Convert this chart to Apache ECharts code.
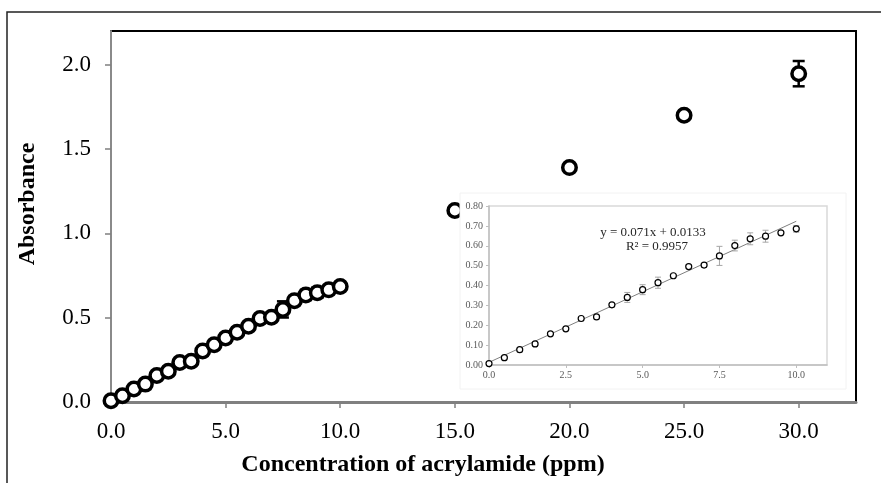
<!DOCTYPE html>
<html>
<head>
<meta charset="utf-8">
<script src="https://cdn.jsdelivr.net/npm/echarts@6/dist/echarts.min.js"></script>
<style>
  html, body { margin: 0; padding: 0; background: #fff; }
  #chart { width: 881px; height: 483px; }
</style>
</head>
<body>
<div id="chart"></div>
<script>
// calibration points 0-10 ppm (also drawn in the inset)
const lowConc = [0, 0.5, 1, 1.5, 2, 2.5, 3, 3.5, 4, 4.5, 5, 5.5, 6, 6.5, 7, 7.5, 8, 8.5, 9, 9.5, 10];
const lowAbs = [0.007, 0.037, 0.077, 0.106, 0.157, 0.182, 0.234, 0.242, 0.303, 0.340, 0.379, 0.414,
  0.449, 0.495, 0.503, 0.549, 0.601, 0.635, 0.648, 0.665, 0.685];
const lowErr = [0.003, 0.005, 0.004, 0.005, 0.004, 0.004, 0.003, 0.005, 0.004, 0.025, 0.025, 0.028,
  0.004, 0.010, 0.004, 0.048, 0.027, 0.030, 0.030, 0.004, 0.017];

// higher concentrations, main chart only
const highConc = [15, 20, 25, 30];
const highAbs = [1.136, 1.39, 1.70, 1.947];
const highErr = [0.02, 0.02, 0.02, 0.075];

// fitted line shown in the inset
const fitSlope = 0.071;
const fitIntercept = 0.0133;
const fitRange = [0, 10];

const mainConc = lowConc.concat(highConc);
const mainAbs = lowAbs.concat(highAbs);
const mainErr = lowErr.concat(highErr);

const serif = 'Liberation Serif, Times New Roman, serif';

function errorBars(capHalf, color, width) {
  return function (params, api) {
    const x = api.value(0);
    const top = api.coord([x, api.value(2)]);
    const bot = api.coord([x, api.value(1)]);
    const style = { stroke: color, lineWidth: width };
    return {
      type: 'group',
      children: [
        { type: 'line', shape: { x1: top[0], y1: top[1], x2: bot[0], y2: bot[1] }, style },
        { type: 'line', shape: { x1: top[0] - capHalf, y1: top[1], x2: top[0] + capHalf, y2: top[1] }, style },
        { type: 'line', shape: { x1: bot[0] - capHalf, y1: bot[1], x2: bot[0] + capHalf, y2: bot[1] }, style }
      ]
    };
  };
}

const chart = echarts.init(document.getElementById('chart'));

const option = {
  animation: false,
  backgroundColor: '#fff',
  grid: [
    {
      left: 111, top: 31, right: 25, bottom: 81,
      show: true, borderColor: '#000', borderWidth: 2, backgroundColor: 'transparent'
    },
    {
      left: 489, top: 206, right: 54, bottom: 118,
      show: true, borderColor: '#d9d9d9', borderWidth: 1.5, backgroundColor: '#fff', z: 15
    }
  ],
  xAxis: [
    {
      type: 'value', gridIndex: 0, min: 0, max: 32.5, interval: 5,
      axisLine: { show: true, lineStyle: { color: '#808080', width: 3 } },
      axisTick: { show: true, inside: false, length: 6, lineStyle: { color: '#808080', width: 1.5 } },
      axisLabel: {
        color: '#000', fontFamily: serif, fontSize: 23, margin: 18,
        formatter: v => v.toFixed(1),
        showMaxLabel: false
      },
      splitLine: { show: false }
    },
    {
      type: 'value', gridIndex: 1, min: 0, max: 11, interval: 2.5, z: 20,
      axisLine: { show: true, lineStyle: { color: '#bfbfbf', width: 1.5 } },
      axisTick: { show: true, length: 3, lineStyle: { color: '#bfbfbf' } },
      axisLabel: {
        color: '#595959', fontFamily: serif, fontSize: 10, margin: 5,
        formatter: v => v.toFixed(1),
        showMaxLabel: false
      },
      splitLine: { show: false }
    }
  ],
  yAxis: [
    {
      type: 'value', gridIndex: 0, min: 0, max: 2.2, interval: 0.5,
      axisLine: { show: true, lineStyle: { color: '#8a8a8a', width: 2 } },
      axisTick: { show: true, inside: false, length: 6, lineStyle: { color: '#808080', width: 1.5 } },
      axisLabel: {
        color: '#000', fontFamily: serif, fontSize: 23, margin: 20,
        formatter: v => v.toFixed(1),
        showMaxLabel: false
      },
      splitLine: { show: false }
    },
    {
      type: 'value', gridIndex: 1, min: 0, max: 0.8, interval: 0.1, z: 20,
      axisLine: { show: true, lineStyle: { color: '#bfbfbf', width: 1.5 } },
      axisTick: { show: true, length: 3, lineStyle: { color: '#bfbfbf' } },
      axisLabel: {
        color: '#595959', fontFamily: serif, fontSize: 10, margin: 6,
        formatter: v => v.toFixed(2)
      },
      splitLine: { show: false }
    }
  ],
  graphic: [
    {
      type: 'rect', z: 1, silent: true,
      shape: { x: 7, y: 12, width: 900, height: 500 },
      style: { fill: 'none', stroke: '#222', lineWidth: 1.5 }
    },
    {
      type: 'rect', z: 10, silent: true,
      shape: { x: 460, y: 193, width: 386, height: 196 },
      style: { fill: '#fff', stroke: '#f2f2f2', lineWidth: 1 }
    },
    {
      type: 'text', z: 30, silent: true, x: 653, y: 233,
      style: {
        text: 'y = 0.071x + 0.0133', fill: '#262626',
        font: '13px ' + serif, align: 'center', verticalAlign: 'middle'
      }
    },
    {
      type: 'text', z: 30, silent: true, x: 657, y: 247,
      style: {
        text: 'R² = 0.9957', fill: '#262626',
        font: '13px ' + serif, align: 'center', verticalAlign: 'middle'
      }
    },
    {
      type: 'text', z: 30, silent: true, x: 423, y: 465,
      style: {
        text: 'Concentration of acrylamide (ppm)', fill: '#000',
        font: 'bold 24px ' + serif, align: 'center', verticalAlign: 'middle'
      }
    },
    {
      type: 'text', z: 30, silent: true, x: 28, y: 204, rotation: Math.PI / 2,
      style: {
        text: 'Absorbance', fill: '#000',
        font: 'bold 24px ' + serif, align: 'center', verticalAlign: 'middle'
      }
    }
  ],
  series: [
    {
      type: 'custom', xAxisIndex: 0, yAxisIndex: 0, z: 2,
      renderItem: errorBars(6, '#000', 2.5),
      encode: { x: 0, y: [1, 2] },
      data: mainConc.map((c, i) => [c, mainAbs[i] - mainErr[i], mainAbs[i] + mainErr[i]])
    },
    {
      type: 'scatter', xAxisIndex: 0, yAxisIndex: 0, z: 3,
      symbol: 'circle', symbolSize: 13.5,
      itemStyle: { color: '#fff', borderColor: '#000', borderWidth: 3.5, opacity: 1 },
      data: mainConc.map((c, i) => [c, mainAbs[i]])
    },
    {
      type: 'line', xAxisIndex: 1, yAxisIndex: 1, z: 20,
      showSymbol: false, symbol: 'none',
      lineStyle: { color: '#7f7f7f', width: 1 },
      data: fitRange.map(x => [x, fitSlope * x + fitIntercept])
    },
    {
      type: 'custom', xAxisIndex: 1, yAxisIndex: 1, z: 21,
      renderItem: errorBars(3, '#a6a6a6', 1),
      encode: { x: 0, y: [1, 2] },
      data: lowConc.map((c, i) => [c, lowAbs[i] - lowErr[i], lowAbs[i] + lowErr[i]])
    },
    {
      type: 'scatter', xAxisIndex: 1, yAxisIndex: 1, z: 22,
      symbol: 'circle', symbolSize: 6,
      itemStyle: { color: '#fff', borderColor: '#000', borderWidth: 1.2, opacity: 1 },
      data: lowConc.map((c, i) => [c, lowAbs[i]])
    }
  ]
};

chart.setOption(option);
</script>
</body>
</html>
